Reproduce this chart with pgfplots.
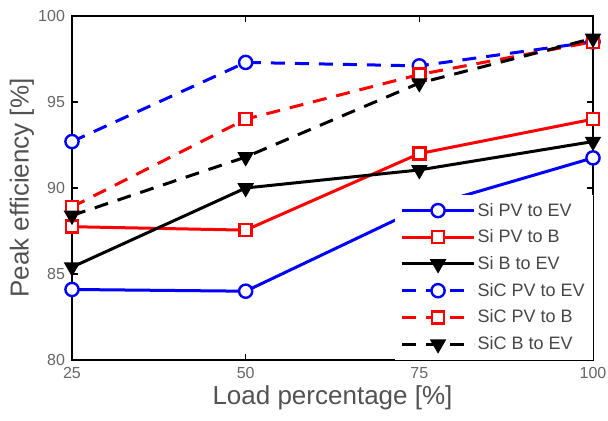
\documentclass[border=0pt]{standalone}
\usepackage{fontspec}
\setmainfont{Liberation Sans}
\usepackage{pgfplots}
\pgfplotsset{compat=1.18}

\begin{document}
\begin{tikzpicture}
\useasboundingbox (-36pt,-30.5pt) rectangle (268pt,180pt);
\begin{axis}[
    at={(0,0)}, anchor=south west,
    scale only axis,
    width=260.5pt, height=172pt,
    xmin=25, xmax=100, ymin=80, ymax=100,
    xtick={25,50,75,100},
    ytick={80,85,90,95,100},
    tick align=inside,
    major tick length=3pt,
    axis line style={line width=1pt},
    every tick/.style={black, line width=0.8pt},
    clip=false,
    /pgf/number format/assume math mode=true,
    tick label style={font=\fontsize{8}{9}\selectfont, text=black!60},
    label style={font=\fontsize{13}{14}\selectfont, text=black!68},
    xlabel={Load percentage [\%]},
    ylabel={Peak efficiency [\%]},
    xlabel style={at={(axis description cs:0.5,-0.11)}, anchor=center},
    ylabel style={at={(axis description cs:-0.096,0.5)}, anchor=center},
    every axis plot/.append style={line width=1.5pt},
    legend image code/.code={
        \draw[mark repeat=2,mark phase=2]
            plot coordinates {(0pt,0pt) (18pt,0pt) (36pt,0pt)};
    },
    legend style={
        at={(rel axis cs:1,0)}, anchor=south east,
        draw=none, fill=white,
        font=\fontsize{9}{10}\selectfont, text=black!72,
        row sep=1.85pt,
        nodes={inner sep=1pt, text height=0.75em, text depth=0.2em},
        cells={anchor=west},
    },
]
% Si
\addplot[blue, mark=*, mark size=3.3pt, mark options={solid, fill=white, line width=1.2pt}]
    coordinates {(25,84.1)(50,84.0)(75,88.8)(100,91.75)};
\addlegendentry{Si PV to EV}
\addplot[red, mark=square*, mark size=3pt, mark options={solid, fill=white, line width=1.2pt}]
    coordinates {(25,87.75)(50,87.55)(75,92.0)(100,94.0)};
\addlegendentry{Si PV to B}
\addplot[black, mark=triangle*, mark size=4pt, mark options={solid, rotate=180, fill=black, line width=0.8pt}]
    coordinates {(25,85.4)(50,90.0)(75,91.05)(100,92.7)};
\addlegendentry{Si B to EV}
% SiC
\addplot[blue, dash pattern=on 7pt off 5pt, mark=*, mark size=3.3pt, mark options={solid, fill=white, line width=1.2pt}]
    coordinates {(25,92.7)(50,97.3)(75,97.1)(100,98.5)};
\addlegendentry{SiC PV to EV}
\addplot[red, dash pattern=on 7pt off 5pt, mark=square*, mark size=3pt, mark options={solid, fill=white, line width=1.2pt}]
    coordinates {(25,88.9)(50,94.0)(75,96.6)(100,98.5)};
\addlegendentry{SiC PV to B}
\addplot[black, dash pattern=on 7pt off 5pt, mark=triangle*, mark size=4pt, mark options={solid, rotate=180, fill=black, line width=0.8pt}]
    coordinates {(25,88.4)(50,91.8)(75,96.1)(100,98.7)};
\addlegendentry{SiC B to EV}
\end{axis}
\end{tikzpicture}
\end{document}
